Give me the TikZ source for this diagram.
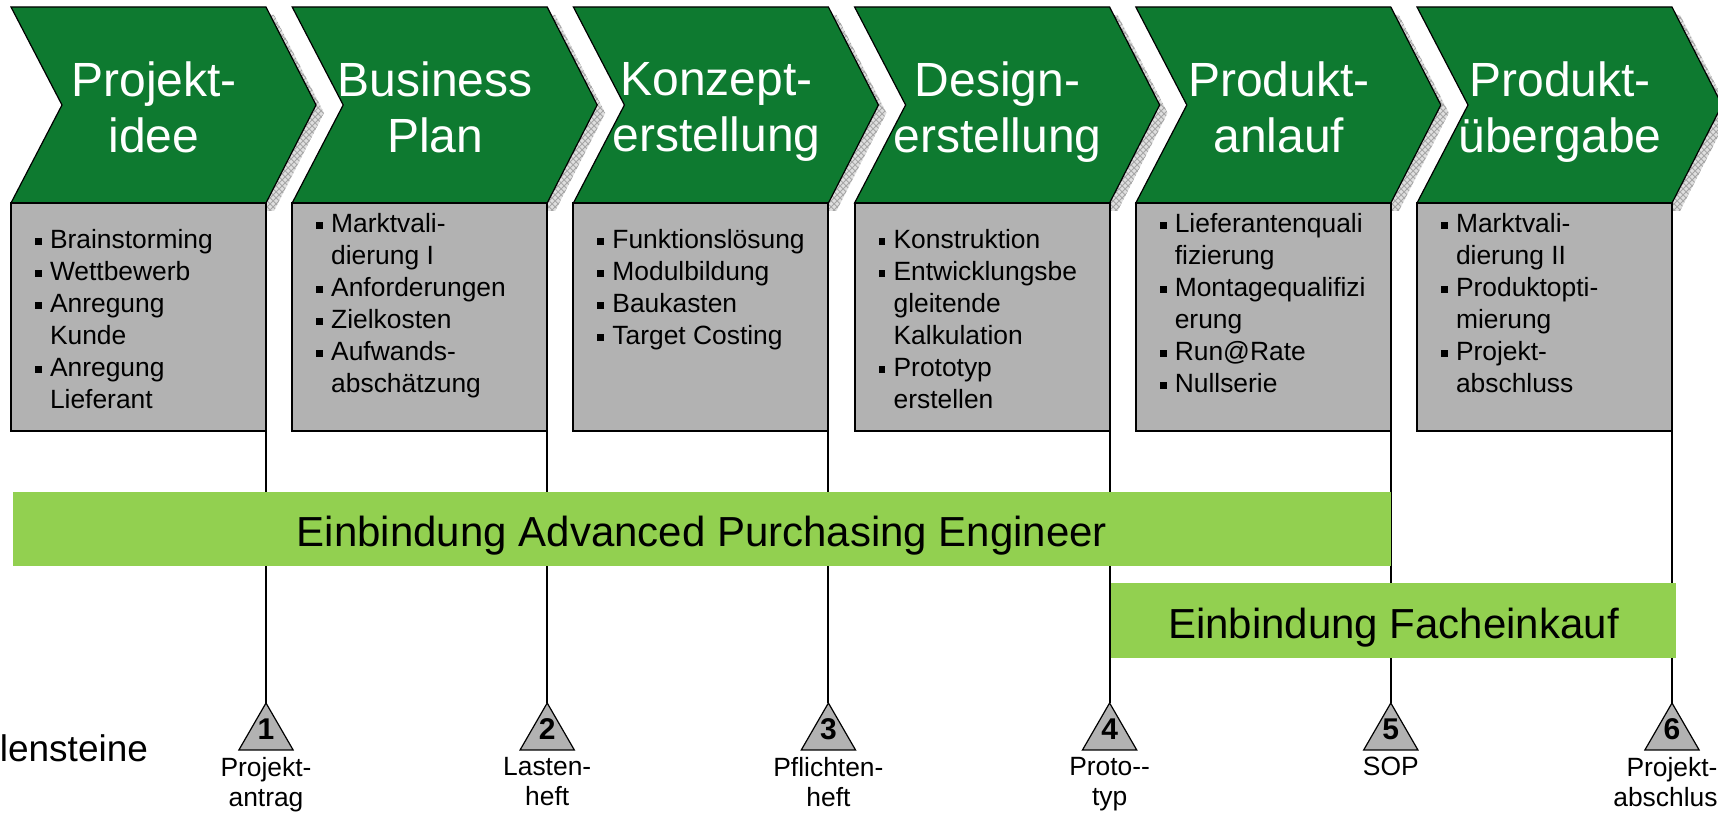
\documentclass[tikz,border=0pt]{standalone}
\usepackage{fontspec}
\setmainfont{Liberation Sans}
\usetikzlibrary{positioning}
\usetikzlibrary{calc}
\usetikzlibrary{shapes.geometric}
\usetikzlibrary{patterns}
\definecolor{phasegreen}{RGB}{14,122,48}
\definecolor{boxgray}{RGB}{178,178,178}
\definecolor{bargreen}{RGB}{146,208,80}
\newcommand{\blt}{\makebox[7.5pt][l]{\raisebox{1.7pt}{\rule{3.4pt}{3.4pt}}}}
\newcommand{\cnt}{\hspace*{7.5pt}}

\begin{document}
\begin{tikzpicture}[
        x=0.5pt, y=-0.5pt,
        every node/.style={inner sep=0pt, outer sep=0pt},
        chevron/.style={fill=phasegreen, draw=black, line width=0.6pt},
        shadow/.style={fill=gray!25, postaction={pattern=crosshatch, pattern color=gray!70}},
        title/.style={text=white, align=center, font=\fontsize{24}{28}\selectfont},
        item/.style={rectangle, fill=boxgray, draw=black, line width=1pt,
                     minimum width=127.5pt, minimum height=114pt},
        bullets/.style={align=left, font=\fontsize{13.2}{16}\selectfont},
        bar/.style={rectangle, fill=bargreen, font=\fontsize{21}{24}\selectfont,
                    text height=18pt, text depth=0pt},
        milestone/.style={regular polygon, regular polygon sides=3, minimum size=31.3pt,
                          fill=boxgray, draw=black, line width=0.6pt,
                          text height=5.4pt, text depth=0pt,
                          font=\fontsize{15}{18}\selectfont\bfseries},
        mlabel/.style={align=center, font=\fontsize{13.2}{15}\selectfont},
        stem/.style={line width=1pt}
      ]
      \useasboundingbox (0,0) rectangle (1718,822);

      % Phases: shadow, green chevron and gray box below it
      \foreach \i/\ptitle in {1/{Projekt-\\idee}, 2/{Business\\Plan}, 3/{Konzept-\\erstellung},
                              4/{Design-\\erstellung}, 5/{Produkt-\\anlauf}, 6/{Produkt-\\übergabe}}{
        \pgfmathsetmacro{\xl}{11+281.2*(\i-1)}
        \path[shadow] (\xl+8,15) -- ++(255,0) -- ++(50,98) -- ++(-50,98) -- ++(-255,0) -- ++(51,-98) -- cycle;
        \path[chevron] (\xl,7) -- ++(255,0) -- ++(50,98) -- ++(-50,98) -- ++(-255,0) -- ++(51,-98) -- cycle;
        \node[title, anchor=north] (p\i) at (\xl+143,62) {\ptitle};
        \node[item, anchor=north west] (b\i) at (\xl,203) {};
      }

      % Bullet lists in the boxes
      \node[bullets, anchor=north west] (t1) at ($(b1.north west)+(24,26)$)
        {\blt Brainstorming\\ \blt Wettbewerb\\ \blt Anregung\\ \cnt Kunde\\ \blt Anregung\\ \cnt Lieferant};
      \node[bullets, anchor=north west] (t2) at ($(b2.north west)+(24,10)$)
        {\blt Marktvali-\\ \cnt dierung I\\ \blt Anforderungen\\ \blt Zielkosten\\ \blt Aufwands-\\ \cnt abschätzung};
      \node[bullets, anchor=north west] (t3) at ($(b3.north west)+(24,26)$)
        {\blt Funktionslösung\\ \blt Modulbildung\\ \blt Baukasten\\ \blt Target Costing};
      \node[bullets, anchor=north west] (t4) at ($(b4.north west)+(24,26)$)
        {\blt Konstruktion\\ \blt Entwicklungsbe\\ \cnt gleitende\\ \cnt Kalkulation\\ \blt Prototyp\\ \cnt erstellen};
      \node[bullets, anchor=north west] (t5) at ($(b5.north west)+(24,10)$)
        {\blt Lieferantenquali\\ \cnt fizierung\\ \blt Montagequalifizi\\ \cnt erung\\ \blt Run@Rate\\ \blt Nullserie};
      \node[bullets, anchor=north west] (t6) at ($(b6.north west)+(24,10)$)
        {\blt Marktvali-\\ \cnt dierung II\\ \blt Produktopti-\\ \cnt mierung\\ \blt Projekt-\\ \cnt abschluss};

      % Milestones: triangle, label and stem up to the box
      \node[anchor=base east, font=\fontsize{18.5}{22}\selectfont] (ms) at (148,762) {Meilensteine};
      \foreach \i/\lbl in {1/{Projekt-\\antrag}, 2/{Lasten-\\heft}, 3/{Pflichten-\\heft},
                           4/{Proto-{}-\\typ}, 5/SOP, 6/{Projekt-\\abschluss}}{
        \node[milestone, anchor=north] (m\i) at ($(b\i.south east)+(0,272)$) {\i};
        \node[mlabel, below=3.5pt of m\i] (l\i) {\lbl};
        \draw[stem] (b\i.south east) -- (m\i.north);
      }

      % Involvement bars
      \node[bar, minimum width=689pt, minimum height=37pt] (apx) at (702,529)
        {Einbindung Advanced Purchasing Engineer};
      \node[bar, minimum width=282.5pt, minimum height=37.5pt] (fek) at (1393.5,620.5)
        {Einbindung Facheinkauf};
    \end{tikzpicture}
\end{document}
